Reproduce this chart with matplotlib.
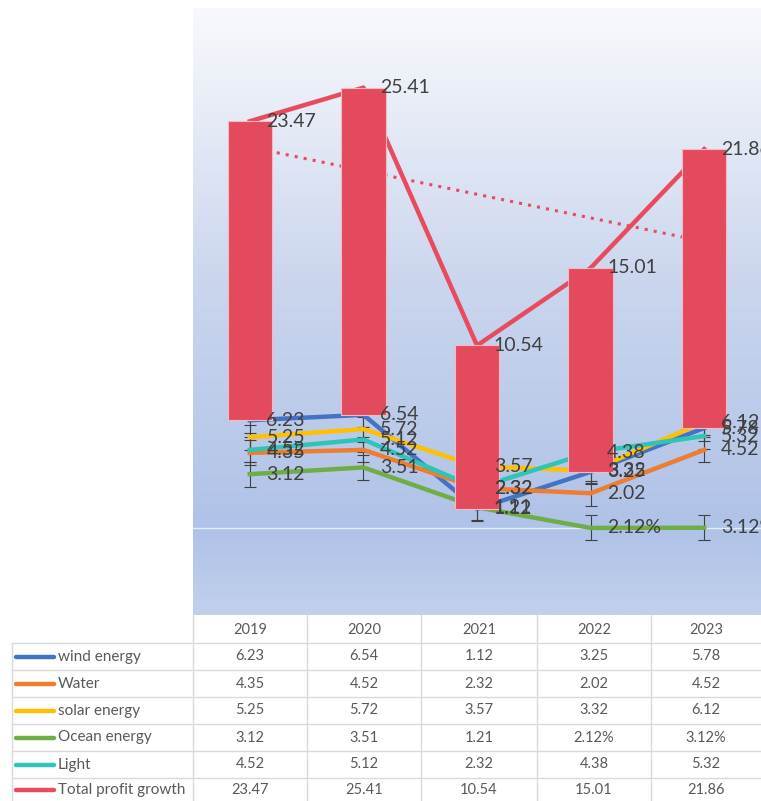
import matplotlib.pyplot as plt
import matplotlib.colors as mcolors
import numpy as np

plt.rcParams['font.family'] = ['Lato', 'DejaVu Sans']

years = ['2019', '2020', '2021', '2022', '2023']
series_names = ['wind energy', 'Water', 'solar energy', 'Ocean energy', 'Light', 'Total profit growth']
wind = [6.23, 6.54, 1.12, 3.25, 5.78]
water = [4.35, 4.52, 2.32, 2.02, 4.52]
solar = [5.25, 5.72, 3.57, 3.32, 6.12]
ocean = [3.12, 3.51, 1.21, 0.0212, 0.0312]
light = [4.52, 5.12, 2.32, 4.38, 5.32]
total = [23.47, 25.41, 10.54, 15.01, 21.86]
# text as shown in labels / table
ocean_text = ['3.12', '3.51', '1.21', '2.12%', '3.12%']
err = 0.72

colors = ['#4472C4', '#ED7D31', '#FFC000', '#70AD47', '#2EC4B6', '#E84A5F']
all_series = [wind, water, solar, ocean, light, total]

fig = plt.figure(figsize=(7.61, 8.01), dpi=100)
ax = fig.add_axes([193 / 761, 1 - 615 / 801, (761 - 193) / 761, (615 - 8) / 801])
ax.set_xlim(-0.5, 4.5)
ax.set_ylim(-5, 30)

# gradient background
cmap = mcolors.LinearSegmentedColormap.from_list(
    'bg', [(0, '#c2d0ec'), (0.14, '#afc2e7'), (0.55, '#cbd6ee'), (1, '#f8f9fc')])
grad = np.linspace(0, 1, 256).reshape(-1, 1)
ax.imshow(grad, extent=[-0.5, 4.5, -5, 30], origin='lower', aspect='auto',
          cmap=cmap, zorder=0)
ax.axhline(0, color='#e6ebf4', lw=1, zorder=1)

x = np.arange(len(years))

for vals, c in zip(all_series[:5], colors[:5]):
    ax.errorbar(x, vals, yerr=err, fmt='none', ecolor='#404040', elinewidth=0.8,
                capsize=4, capthick=0.8, zorder=2)
    ax.plot(x, vals, color=c, lw=3.2, solid_joinstyle='round', zorder=2.5)
ax.plot(x, total, color=colors[5], lw=3.2, zorder=2.5)

# trendline on total
k, b = np.polyfit(x, total, 1)
ax.plot(x, k * x + b, color='#E84A5F', lw=2.2, ls=(0, (1, 2)), zorder=2.4)

# up-down bars
ax.bar(x, np.array(total) - np.array(wind), bottom=wind, width=0.39,
       color='#E34A5E', edgecolor='#f4b9c1', lw=0.8, zorder=3)

# data labels
texts = [[f'{v:.2f}' for v in s] for s in all_series]
texts[3] = ocean_text
for s, t in zip(all_series, texts):
    for xi, v, tx in zip(x, s, t):
        ax.annotate(tx, (xi, v), xytext=(12, 0), textcoords='offset points',
                    ha='left', va='center', fontsize=14, color='#404040', zorder=5,
                    annotation_clip=False)

ax.set_xticks([])
ax.set_yticks([])
for sp in ax.spines.values():
    sp.set_visible(False)

# data table
tab = fig.add_axes([0, 0, 1, 186 / 801])
tab.set_xlim(0, 761)
tab.set_ylim(801, 615)
tab.axis('off')
col_edges = [193, 307, 421, 537, 651, 761]
row_edges = [643, 670, 697, 724, 751, 778, 805]
grid_c = '#d9d9d9'
for xe in col_edges[:-1]:
    tab.plot([xe, xe], [615, 801], color=grid_c, lw=1)
tab.plot([12, 12], [643, 801], color=grid_c, lw=1)
for ye in row_edges[:-1]:
    tab.plot([12, 761], [ye, ye], color=grid_c, lw=1)

centers = [(col_edges[i] + col_edges[i + 1]) / 2 for i in range(5)]
for cx, yr in zip(centers, years):
    tab.text(cx, 630, yr, ha='center', va='center', fontsize=10.5, color='#595959')
for r, (name, s, t, c) in enumerate(zip(series_names, all_series, texts, colors)):
    cy = (row_edges[r] + row_edges[r + 1]) / 2
    if r == 5:
        cy = 790
    tab.plot([16, 54], [cy, cy], color=c, lw=3.2, solid_capstyle='round')
    tab.text(58, cy, name, ha='left', va='center', fontsize=11, color='#595959')
    for cx, tx in zip(centers, t):
        tab.text(cx, cy, tx, ha='center', va='center', fontsize=10.5, color='#595959')

fig.savefig('out.png', dpi=100)
